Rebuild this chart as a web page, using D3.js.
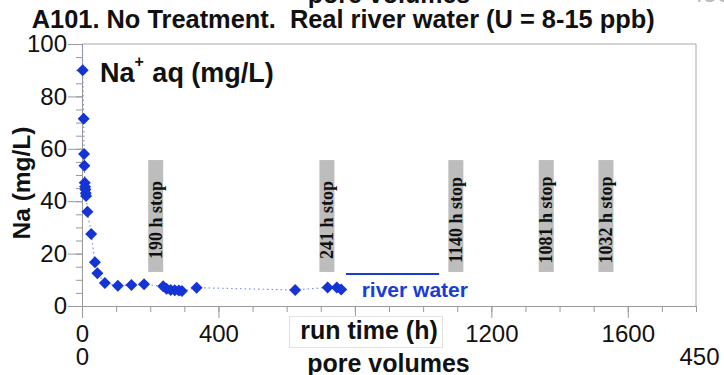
<!DOCTYPE html>
<html><head><meta charset="utf-8">
<script src="https://cdn.jsdelivr.net/npm/d3@7"></script>
<style>
html,body{margin:0;padding:0;background:#fff;}
svg{display:block;}
text{font-family:"Liberation Sans",Arial,sans-serif;}
</style></head>
<body>
<script>
// ---- data ----
const hours = [0, 2, 5, 6, 7, 8, 9, 10, 11, 12, 16, 27, 38, 45, 67, 105, 145, 182, 238, 248, 260, 272, 284, 293, 336, 625, 720, 747, 760];
const naValues = [120, 90, 71.5, 58, 53.5, 47, 45.5, 44.5, 43, 42, 36, 27.5, 16.7, 12.5, 8.8, 7.7, 8, 8.3, 7.5, 6.6, 6.1, 6.0, 5.9, 5.7, 7.0, 6.1, 7.1, 7.1, 6.3];
const xMajorTicks = [0, 400, 800, 1200, 1600];
const xMinorTicks = d3.range(0, 1801, 100);
const yMajorTicks = [0, 20, 40, 60, 80, 100];
const yMinorTicks = d3.range(0, 101, 5);
const poreTicks = [0, 450];
const stopLabels = ["190 h stop", "241 h stop", "1140 h stop", "1081 h stop", "1032 h stop"];
const stopHours = [216, 718, 1096, 1361, 1536];
const stopRange = [13, 55.7];
const riverWater = {label: "river water", from: 774, to: 1047, na: 12.2};
const title = "A101. No Treatment.  Real river water (U = 8-15 ppb)";

const W = 724, H = 375;
const L = 82, R = 696, T = 44, B = 306;
const x = d3.scaleLinear().domain([0, 1800]).range([L, R]);
const xp = d3.scaleLinear().domain([0, 450]).range([L, R]);
const y = d3.scaleLinear().domain([0, 100]).range([B, T]);

const svg = d3.select("body").append("svg").attr("width", W).attr("height", H);

svg.append("defs").append("clipPath").attr("id", "clip")
  .append("rect").attr("x", L - 8).attr("y", T).attr("width", R - L + 16).attr("height", B - T + 8);

// frame (top & right)
svg.append("path").attr("d", `M${L},${T}H${R}V${B}`).attr("fill", "none").attr("stroke", "#a8a8a8").attr("stroke-width", 1);

const axisColor = "#999";
function styleAxis(g) {
  g.selectAll(".domain").attr("stroke", axisColor);
  g.selectAll(".tick line").attr("stroke", axisColor);
}
const fmt = d3.format("d");

// y minor
svg.append("g").attr("transform", `translate(${L},0)`)
  .call(d3.axisLeft(y).tickValues(yMinorTicks).tickSize(6).tickFormat(""))
  .call(styleAxis);
// y major
svg.append("g").attr("transform", `translate(${L},0)`)
  .call(d3.axisLeft(y).tickValues(yMajorTicks).tickSize(14).tickPadding(1).tickSizeOuter(0).tickFormat(fmt))
  .call(styleAxis)
  .call(g => g.selectAll("text").attr("font-size", 24).attr("fill", "#111"));

// x minor
svg.append("g").attr("transform", `translate(0,${B})`)
  .call(d3.axisBottom(x).tickValues(xMinorTicks).tickSize(6).tickFormat("").tickSizeOuter(0))
  .call(styleAxis);
// x major
svg.append("g").attr("transform", `translate(0,${B})`)
  .call(d3.axisBottom(x).tickValues(xMajorTicks).tickSize(12).tickPadding(7).tickSizeOuter(0).tickFormat(fmt))
  .call(styleAxis)
  .call(g => g.select(".domain").remove())
  .call(g => g.selectAll("text").attr("font-size", 24).attr("fill", "#111"));
// pore volumes axis
svg.append("g").attr("transform", `translate(0,${B})`)
  .call(d3.axisBottom(xp).tickValues(poreTicks).tickSize(0).tickPadding(42).tickFormat(fmt))
  .call(g => g.select(".domain").remove())
  .call(g => g.selectAll("text").attr("font-size", 24).attr("fill", "#111")
     .attr("dx", d => d === 450 ? 3 : 0));

// top cut-off duplicate axis labels
svg.append("text").attr("x", 389).attr("y", 3).attr("text-anchor", "middle")
  .attr("font-size", 25).attr("font-weight", "bold").attr("fill", "#111").text("pore volumes");
svg.append("text").attr("x", xp(450) + 14).attr("y", 2).attr("text-anchor", "middle")
  .attr("font-size", 24).attr("fill", "#bbb").text("450");

// run time label with box
svg.append("rect").attr("x", 289.5).attr("y", 316.5).attr("width", 153).attr("height", 31)
  .attr("fill", "#fff").attr("stroke", "#e2e2e2");
svg.append("text").attr("x", 369).attr("y", 339.3).attr("text-anchor", "middle")
  .attr("font-size", 25).attr("font-weight", "bold").attr("fill", "#111").text("run time (h)");
svg.append("text").attr("x", 388.5).attr("y", 371.5).attr("text-anchor", "middle")
  .attr("font-size", 25).attr("font-weight", "bold").attr("fill", "#111").text("pore volumes");

// y label
svg.append("text").attr("transform", `translate(30,183) rotate(-90)`).attr("text-anchor", "middle")
  .attr("font-size", 24.5).attr("font-weight", "bold").attr("fill", "#111").text("Na (mg/L)");

// title
svg.append("text").attr("x", 31.7).attr("y", 27.7)
  .attr("font-size", 25.4).attr("font-weight", "bold").attr("fill", "#111")
  .style("white-space", "pre").text(title);

// Na+ aq label
const nl = svg.append("text").attr("x", 100).attr("y", 82).attr("font-size", 27).attr("font-weight", "bold").attr("fill", "#111");
nl.append("tspan").text("Na");
nl.append("tspan").attr("dy", -15).attr("font-size", 16).text("+");
nl.append("tspan").attr("dy", 15).attr("dx", 1).text(" aq (mg/L)");

// stop annotations
const stops = stopLabels.map((s, i) => ({label: s, h: stopHours[i]}));
const sg = svg.append("g");
sg.selectAll("rect").data(stops).join("rect")
  .attr("x", d => x(d.h) - 7.5).attr("width", 15)
  .attr("y", y(stopRange[1])).attr("height", y(stopRange[0]) - y(stopRange[1]))
  .attr("fill", "#bdbdbd");
sg.selectAll("text").data(stops).join("text")
  .attr("transform", d => `translate(${x(d.h) + 6},${(y(stopRange[0]) + y(stopRange[1])) / 2 + 4}) rotate(-90)`)
  .attr("text-anchor", "middle")
  .style("font-family", "'Liberation Serif', 'Times New Roman', serif")
  .attr("font-size", 18).attr("font-weight", "bold").attr("fill", "#111")
  .text(d => d.label);

// river water
svg.append("line").attr("x1", x(riverWater.from)).attr("x2", x(riverWater.to))
  .attr("y1", y(riverWater.na)).attr("y2", y(riverWater.na))
  .attr("stroke", "#1a3cd6").attr("stroke-width", 2);
svg.append("text").attr("x", 361.7).attr("y", 297).attr("font-size", 21).attr("font-weight", "bold")
  .attr("fill", "#1a3cd6").text(riverWater.label);

// data
const pts = hours.map((h, i) => ({h, v: naValues[i]}));
const dg = svg.append("g").attr("clip-path", "url(#clip)");
dg.append("path").datum(pts)
  .attr("d", d3.line().x(d => x(d.h)).y(d => y(d.v)))
  .attr("fill", "none").attr("stroke", "#7f8fea").attr("stroke-width", 1.2).attr("stroke-dasharray", "1.5,3");
dg.selectAll("path.pt").data(pts).join("path").attr("class", "pt")
  .attr("d", d3.symbol(d3.symbolSquare, 72))
  .attr("transform", d => `translate(${x(d.h)},${y(d.v)}) rotate(45)`)
  .attr("fill", "#1434d6");
</script>
</body></html>
